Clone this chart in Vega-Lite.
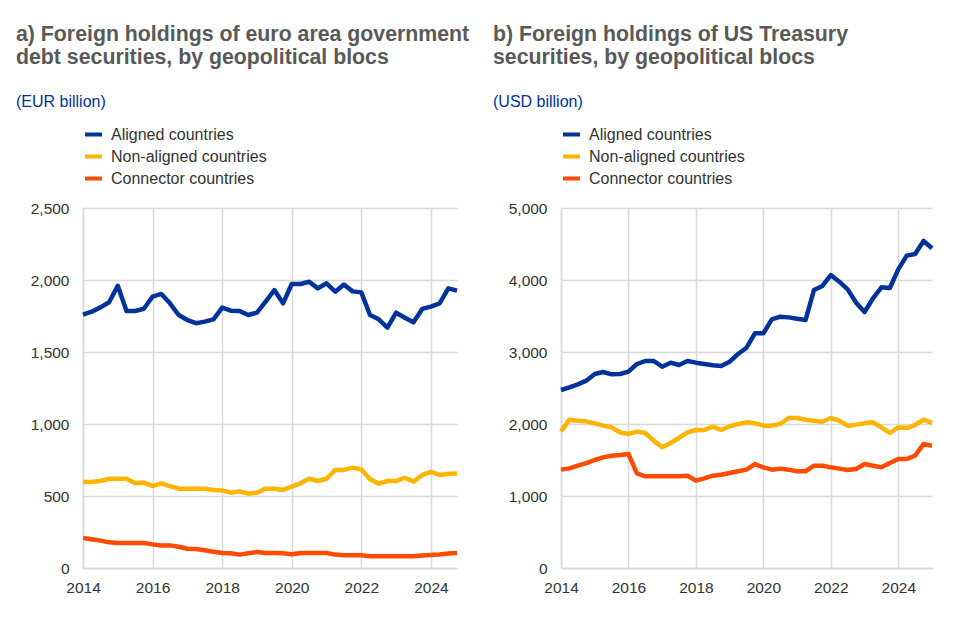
{
  "$schema": "https://vega.github.io/schema/vega-lite/v6.json",
  "background": "white",
  "padding": {"left": 16, "top": 23, "right": 5, "bottom": 5},
  "datasets": {
    "a": [
      {"t": 2014.00, "Aligned countries": 1760, "Non-aligned countries": 597, "Connector countries": 208},
      {"t": 2014.25, "Aligned countries": 1780, "Non-aligned countries": 597, "Connector countries": 199},
      {"t": 2014.50, "Aligned countries": 1810, "Non-aligned countries": 604, "Connector countries": 190},
      {"t": 2014.75, "Aligned countries": 1845, "Non-aligned countries": 620, "Connector countries": 178},
      {"t": 2015.00, "Aligned countries": 1960, "Non-aligned countries": 620, "Connector countries": 174},
      {"t": 2015.25, "Aligned countries": 1785, "Non-aligned countries": 620, "Connector countries": 174},
      {"t": 2015.50, "Aligned countries": 1785, "Non-aligned countries": 588, "Connector countries": 174},
      {"t": 2015.75, "Aligned countries": 1800, "Non-aligned countries": 593, "Connector countries": 174},
      {"t": 2016.00, "Aligned countries": 1885, "Non-aligned countries": 569, "Connector countries": 164},
      {"t": 2016.25, "Aligned countries": 1903, "Non-aligned countries": 588, "Connector countries": 157},
      {"t": 2016.50, "Aligned countries": 1838, "Non-aligned countries": 569, "Connector countries": 157},
      {"t": 2016.75, "Aligned countries": 1757, "Non-aligned countries": 551, "Connector countries": 148},
      {"t": 2017.00, "Aligned countries": 1722, "Non-aligned countries": 551, "Connector countries": 134},
      {"t": 2017.25, "Aligned countries": 1700, "Non-aligned countries": 551, "Connector countries": 132},
      {"t": 2017.50, "Aligned countries": 1711, "Non-aligned countries": 551, "Connector countries": 123},
      {"t": 2017.75, "Aligned countries": 1727, "Non-aligned countries": 542, "Connector countries": 113},
      {"t": 2018.00, "Aligned countries": 1808, "Non-aligned countries": 539, "Connector countries": 104},
      {"t": 2018.25, "Aligned countries": 1787, "Non-aligned countries": 523, "Connector countries": 102},
      {"t": 2018.50, "Aligned countries": 1785, "Non-aligned countries": 532, "Connector countries": 93},
      {"t": 2018.75, "Aligned countries": 1757, "Non-aligned countries": 516, "Connector countries": 102},
      {"t": 2019.00, "Aligned countries": 1773, "Non-aligned countries": 523, "Connector countries": 111},
      {"t": 2019.25, "Aligned countries": 1850, "Non-aligned countries": 551, "Connector countries": 104},
      {"t": 2019.50, "Aligned countries": 1930, "Non-aligned countries": 551, "Connector countries": 104},
      {"t": 2019.75, "Aligned countries": 1838, "Non-aligned countries": 542, "Connector countries": 102},
      {"t": 2020.00, "Aligned countries": 1972, "Non-aligned countries": 565, "Connector countries": 95},
      {"t": 2020.25, "Aligned countries": 1972, "Non-aligned countries": 588, "Connector countries": 104},
      {"t": 2020.50, "Aligned countries": 1988, "Non-aligned countries": 620, "Connector countries": 104},
      {"t": 2020.75, "Aligned countries": 1942, "Non-aligned countries": 604, "Connector countries": 104},
      {"t": 2021.00, "Aligned countries": 1977, "Non-aligned countries": 620, "Connector countries": 104},
      {"t": 2021.25, "Aligned countries": 1919, "Non-aligned countries": 681, "Connector countries": 93},
      {"t": 2021.50, "Aligned countries": 1968, "Non-aligned countries": 681, "Connector countries": 88},
      {"t": 2021.75, "Aligned countries": 1921, "Non-aligned countries": 697, "Connector countries": 88},
      {"t": 2022.00, "Aligned countries": 1914, "Non-aligned countries": 685, "Connector countries": 88},
      {"t": 2022.25, "Aligned countries": 1757, "Non-aligned countries": 616, "Connector countries": 81},
      {"t": 2022.50, "Aligned countries": 1727, "Non-aligned countries": 586, "Connector countries": 81},
      {"t": 2022.75, "Aligned countries": 1669, "Non-aligned countries": 604, "Connector countries": 81},
      {"t": 2023.00, "Aligned countries": 1773, "Non-aligned countries": 604, "Connector countries": 81},
      {"t": 2023.25, "Aligned countries": 1738, "Non-aligned countries": 627, "Connector countries": 81},
      {"t": 2023.50, "Aligned countries": 1706, "Non-aligned countries": 600, "Connector countries": 81},
      {"t": 2023.75, "Aligned countries": 1799, "Non-aligned countries": 646, "Connector countries": 86},
      {"t": 2024.00, "Aligned countries": 1815, "Non-aligned countries": 667, "Connector countries": 90},
      {"t": 2024.25, "Aligned countries": 1838, "Non-aligned countries": 646, "Connector countries": 93},
      {"t": 2024.50, "Aligned countries": 1942, "Non-aligned countries": 655, "Connector countries": 100},
      {"t": 2024.75, "Aligned countries": 1926, "Non-aligned countries": 657, "Connector countries": 104}
    ],
    "b": [
      {"t": 2014.00, "Aligned countries": 2472, "Non-aligned countries": 1898, "Connector countries": 1366},
      {"t": 2014.25, "Aligned countries": 2509, "Non-aligned countries": 2060, "Connector countries": 1384},
      {"t": 2014.50, "Aligned countries": 2551, "Non-aligned countries": 2046, "Connector countries": 1421},
      {"t": 2014.75, "Aligned countries": 2602, "Non-aligned countries": 2037, "Connector countries": 1458},
      {"t": 2015.00, "Aligned countries": 2694, "Non-aligned countries": 2009, "Connector countries": 1500},
      {"t": 2015.25, "Aligned countries": 2722, "Non-aligned countries": 1977, "Connector countries": 1537},
      {"t": 2015.50, "Aligned countries": 2690, "Non-aligned countries": 1954, "Connector countries": 1560},
      {"t": 2015.75, "Aligned countries": 2694, "Non-aligned countries": 1884, "Connector countries": 1569},
      {"t": 2016.00, "Aligned countries": 2727, "Non-aligned countries": 1861, "Connector countries": 1583},
      {"t": 2016.25, "Aligned countries": 2833, "Non-aligned countries": 1894, "Connector countries": 1315},
      {"t": 2016.50, "Aligned countries": 2875, "Non-aligned countries": 1875, "Connector countries": 1273},
      {"t": 2016.75, "Aligned countries": 2875, "Non-aligned countries": 1769, "Connector countries": 1273},
      {"t": 2017.00, "Aligned countries": 2796, "Non-aligned countries": 1676, "Connector countries": 1273},
      {"t": 2017.25, "Aligned countries": 2852, "Non-aligned countries": 1736, "Connector countries": 1273},
      {"t": 2017.50, "Aligned countries": 2819, "Non-aligned countries": 1806, "Connector countries": 1273},
      {"t": 2017.75, "Aligned countries": 2875, "Non-aligned countries": 1884, "Connector countries": 1282},
      {"t": 2018.00, "Aligned countries": 2852, "Non-aligned countries": 1917, "Connector countries": 1213},
      {"t": 2018.25, "Aligned countries": 2833, "Non-aligned countries": 1917, "Connector countries": 1245},
      {"t": 2018.50, "Aligned countries": 2815, "Non-aligned countries": 1963, "Connector countries": 1282},
      {"t": 2018.75, "Aligned countries": 2806, "Non-aligned countries": 1917, "Connector countries": 1296},
      {"t": 2019.00, "Aligned countries": 2866, "Non-aligned countries": 1968, "Connector countries": 1319},
      {"t": 2019.25, "Aligned countries": 2972, "Non-aligned countries": 2000, "Connector countries": 1343},
      {"t": 2019.50, "Aligned countries": 3060, "Non-aligned countries": 2023, "Connector countries": 1366},
      {"t": 2019.75, "Aligned countries": 3259, "Non-aligned countries": 2009, "Connector countries": 1444},
      {"t": 2020.00, "Aligned countries": 3259, "Non-aligned countries": 1977, "Connector countries": 1398},
      {"t": 2020.25, "Aligned countries": 3454, "Non-aligned countries": 1977, "Connector countries": 1366},
      {"t": 2020.50, "Aligned countries": 3491, "Non-aligned countries": 2000, "Connector countries": 1380},
      {"t": 2020.75, "Aligned countries": 3481, "Non-aligned countries": 2083, "Connector countries": 1366},
      {"t": 2021.00, "Aligned countries": 3463, "Non-aligned countries": 2083, "Connector countries": 1343},
      {"t": 2021.25, "Aligned countries": 3444, "Non-aligned countries": 2060, "Connector countries": 1343},
      {"t": 2021.50, "Aligned countries": 3861, "Non-aligned countries": 2046, "Connector countries": 1421},
      {"t": 2021.75, "Aligned countries": 3917, "Non-aligned countries": 2032, "Connector countries": 1421},
      {"t": 2022.00, "Aligned countries": 4069, "Non-aligned countries": 2083, "Connector countries": 1398},
      {"t": 2022.25, "Aligned countries": 3977, "Non-aligned countries": 2046, "Connector countries": 1380},
      {"t": 2022.50, "Aligned countries": 3870, "Non-aligned countries": 1977, "Connector countries": 1361},
      {"t": 2022.75, "Aligned countries": 3685, "Non-aligned countries": 1991, "Connector countries": 1375},
      {"t": 2023.00, "Aligned countries": 3556, "Non-aligned countries": 2009, "Connector countries": 1444},
      {"t": 2023.25, "Aligned countries": 3745, "Non-aligned countries": 2023, "Connector countries": 1421},
      {"t": 2023.50, "Aligned countries": 3898, "Non-aligned countries": 1954, "Connector countries": 1398},
      {"t": 2023.75, "Aligned countries": 3889, "Non-aligned countries": 1875, "Connector countries": 1458},
      {"t": 2024.00, "Aligned countries": 4148, "Non-aligned countries": 1954, "Connector countries": 1514},
      {"t": 2024.25, "Aligned countries": 4338, "Non-aligned countries": 1944, "Connector countries": 1514},
      {"t": 2024.50, "Aligned countries": 4361, "Non-aligned countries": 1986, "Connector countries": 1560},
      {"t": 2024.75, "Aligned countries": 4542, "Non-aligned countries": 2060, "Connector countries": 1722},
      {"t": 2025.00, "Aligned countries": 4440, "Non-aligned countries": 2014, "Connector countries": 1699}
    ]
  },
  "spacing": 104,
  "bounds": "flush",
  "resolve": {"scale": {"color": "independent", "y": "independent", "x": "independent"}, "legend": {"color": "independent"}},
  "hconcat": [
    {
      "width": 374,
      "height": 360,
      "title": {"text": ["a) Foreign holdings of euro area government", "debt securities, by geopolitical blocs"], "subtitle": "(EUR billion)", "dx": -67},
      "data": {"name": "a"},
      "transform": [{"fold": ["Aligned countries", "Non-aligned countries", "Connector countries"], "as": ["series", "value"]}],
      "mark": {"type": "line", "strokeWidth": 4.5, "strokeJoin": "round"},
      "encoding": {
        "x": {"field": "t", "type": "quantitative", "scale": {"domain": [2014, 2024.75], "nice": false, "zero": false}, "axis": {"values": [2014, 2016, 2018, 2020, 2022, 2024], "format": "d", "title": null, "labelFlush": false}},
        "y": {"field": "value", "type": "quantitative", "scale": {"domain": [0, 2500], "nice": false}, "axis": {"values": [0, 500, 1000, 1500, 2000, 2500], "format": ",d", "title": null}},
        "color": {"field": "series", "type": "nominal", "scale": {"domain": ["Aligned countries", "Non-aligned countries", "Connector countries"], "range": ["#003299", "#ffb400", "#ff4b00"]}, "legend": {"title": null, "orient": "none", "legendX": 0, "legendY": -84}}
      }
    },
    {
      "width": 371,
      "height": 360,
      "title": {"text": ["b) Foreign holdings of US Treasury", "securities, by geopolitical blocs"], "subtitle": "(USD billion)", "dx": -68},
      "data": {"name": "b"},
      "transform": [{"fold": ["Aligned countries", "Non-aligned countries", "Connector countries"], "as": ["series", "value"]}],
      "mark": {"type": "line", "strokeWidth": 4.5, "strokeJoin": "round"},
      "encoding": {
        "x": {"field": "t", "type": "quantitative", "scale": {"domain": [2014, 2025], "nice": false, "zero": false}, "axis": {"values": [2014, 2016, 2018, 2020, 2022, 2024], "format": "d", "title": null, "labelFlush": false}},
        "y": {"field": "value", "type": "quantitative", "scale": {"domain": [0, 5000], "nice": false}, "axis": {"values": [0, 1000, 2000, 3000, 4000, 5000], "format": ",d", "title": null}},
        "color": {"field": "series", "type": "nominal", "scale": {"domain": ["Aligned countries", "Non-aligned countries", "Connector countries"], "range": ["#003299", "#ffb400", "#ff4b00"]}, "legend": {"title": null, "orient": "none", "legendX": 0, "legendY": -84}}
      }
    }
  ],
  "config": {
    "font": "Liberation Sans",
    "view": {"stroke": null},
    "title": {"anchor": "start", "frame": "group", "font": "Liberation Sans", "fontSize": 21.3, "fontWeight": "bold", "color": "#595959", "lineHeight": 23, "subtitleFont": "Liberation Sans", "subtitleFontSize": 16, "subtitleColor": "#003299", "subtitlePadding": 26, "offset": 14},
    "axis": {"labelFont": "Liberation Sans", "labelFontSize": 15.5, "labelColor": "#333333", "ticks": false, "domainColor": "#d9d9d9", "domainWidth": 1.5, "gridColor": "#d9d9d9", "gridWidth": 1.5, "grid": true},
    "axisX": {"labelPadding": 12},
    "axisY": {"labelPadding": 14},
    "legend": {"symbolType": "stroke", "symbolStrokeWidth": 4, "symbolSize": 289, "labelFont": "Liberation Sans", "labelFontSize": 16, "labelColor": "#333333", "labelOffset": 7, "rowPadding": 3, "padding": 0}
  }
}
